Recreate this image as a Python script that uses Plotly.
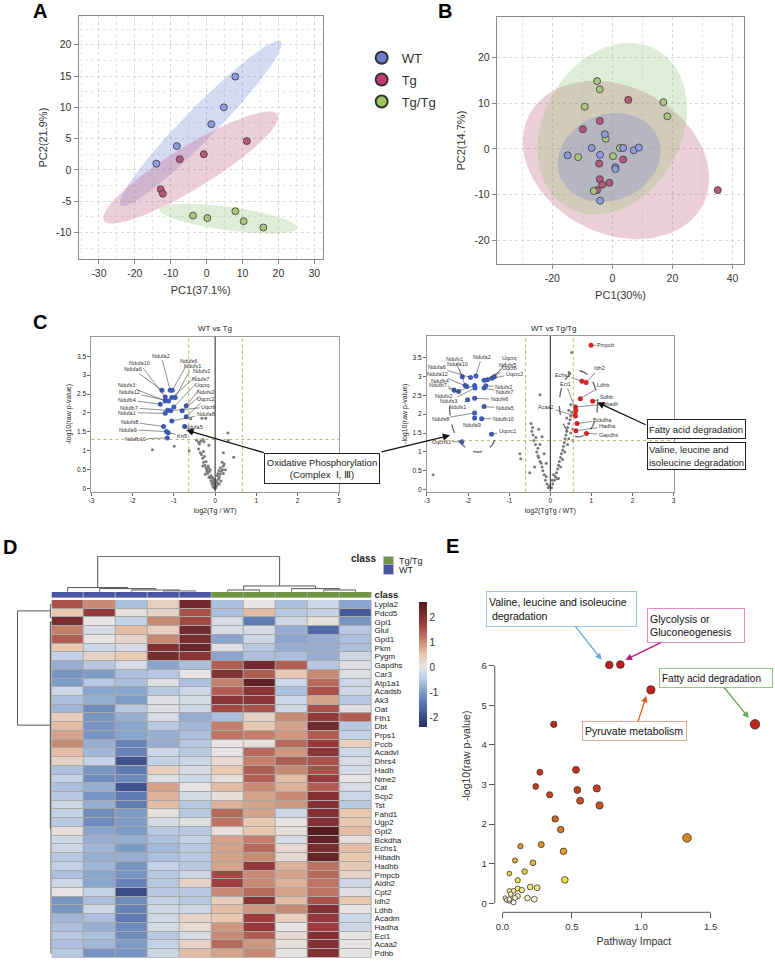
import numpy as np
import plotly.graph_objects as go

FONT = "Liberation Sans, Arial, sans-serif"
W, H = 775, 963


def px(x):
    return x / W


def py(y):
    return 1 - y / H


def ticks_txt(vals):
    # plain hyphen minus signs, as in the original figure
    return [("%g" % v) for v in vals]


# ---------------- A: PCA (WT, Tg, Tg/Tg) ----------------
a_wt_pc1 = [-14.0, -8.3, 1.3, 4.8, 8.0]
a_wt_pc2 = [1.0, 3.8, 7.3, 10.0, 14.9]
a_tg_pc1 = [-12.8, -12.2, -7.5, -0.8, 11.2]
a_tg_pc2 = [-3.1, -3.8, 1.7, 2.5, 4.6]
a_tgtg_pc1 = [-3.8, 0.2, 8.0, 10.3, 15.8]
a_tgtg_pc2 = [-7.3, -7.7, -6.6, -8.2, -9.2]

# ---------------- B: PCA ----------------
b_wt_pc1 = [-2.5, -6.9, -14.9, -4.1, 3.6, 7.1, 8.8, 1.0, 1.0, -4.1]
b_wt_pc2 = [3.2, 0.2, -1.4, -1.3, 0.2, -0.3, 0.3, -4.0, -4.4, -11.3]
b_tg_pc1 = [5.3, -4.2, -9.8, -4.4, 3.6, -4.2, -3.4, -1.0, -5.1, 35.1]
b_tg_pc2 = [10.7, 6.1, 4.3, -3.2, -2.3, -6.6, -7.8, -7.4, -9.0, -9.0]
b_tgtg_pc1 = [-5.1, -4.2, -9.2, 17.0, 18.3, -2.2, 2.5, 0.2, -11.4, -6.2]
b_tgtg_pc2 = [14.8, 13.0, 9.2, 10.2, 7.1, 2.2, 0.2, -1.6, -1.8, -9.2]

# ---------------- C: volcano WT vs Tg ----------------
c1_gray_x = [-1.52, -0.99, -0.63, -0.59, -0.32, -0.23, 0.31, 0.32, 0.45, -0.55, -0.35, -0.3, -0.4,
             -0.15, 0.2, -0.05, -0.03, -0.08, -0.1, -0.06, -0.12, -0.15, -0.1, -0.18, -0.14, -0.2,
             -0.22, -0.17, -0.25, -0.28, -0.22, -0.3, -0.26, -0.33, -0.36, -0.28, -0.4, -0.2, -0.12,
             -0.07, -0.02, -0.04, -0.16, -0.24, -0.3, 0.02, 0.04, 0.06, 0.03, 0.08, 0.1, 0.12, 0.07,
             0.15, 0.18, 0.13, 0.2, 0.22, 0.17, 0.25, 0.1, 0.05, 0.14, 0.2, 0.09, 0.0, 0.01, -0.01, 0.0,
             -0.45, -0.38, -0.27]
c1_gray_y = [1.03, 1.12, 1.0, 1.85, 1.86, 1.86, 1.47, 1.27, 0.83, 1.5, 1.25, 1.3, 1.22,
             1.15, 0.95, 0.05, 0.1, 0.12, 0.2, 0.18, 0.28, 0.3, 0.35, 0.4, 0.45, 0.5,
             0.55, 0.6, 0.62, 0.7, 0.72, 0.8, 0.85, 0.9, 0.95, 0.98, 1.05, 0.45, 0.5,
             0.3, 0.02, 0.25, 0.55, 0.38, 0.6, 0.03, 0.08, 0.15, 0.2, 0.25, 0.3, 0.38, 0.4,
             0.45, 0.5, 0.55, 0.6, 0.65, 0.7, 0.5, 0.12, 0.35, 0.2, 0.4, 0.48, 0.01, 0.06, 0.14, 0.22,
             1.28, 1.18, 1.24]
c1_genes = ["Ndufa6", "Ndufa10", "Ndufs3", "Ndufa12", "Ndufb4", "Ndufa2", "Ndufs6", "Ndufv2",
            "Ndufv1", "Ndufs7", "Ndufb7", "Ndufa1", "Uqcrb", "Uqcrq", "Ndufs2", "Uqcrc2", "Ndufa8",
            "Ndufs8", "Ndufa5", "Ndufa9", "Krt5", "Ndufb10"]
c1_fc = [-1.29, -1.21, -1.21, -1.13, -1.33, -1.09, -1.04, -1.05, -0.97, -1.0, -1.15, -1.21, -1.08,
         -0.70, -0.80, -0.70, -1.05, -1.25, -0.74, -1.18, -1.14, -1.16]
c1_p = [2.60, 2.42, 2.32, 2.32, 2.23, 2.60, 2.60, 2.41, 2.41, 2.16, 2.07, 1.99, 2.06,
        2.19, 2.06, 1.90, 1.79, 1.64, 1.64, 1.51, 1.48, 1.34]
# label text positions (data units)
c1_lab_x = [-1.99, -1.83, -2.16, -2.08, -2.13, -1.31, -0.64, -0.32, -0.56, -0.35, -2.08, -2.13, -0.15,
            -0.30, -0.23, -0.23, -0.23, -2.08, -0.52, -2.11, -0.80, -1.93]
c1_lab_y = [3.16, 3.31, 2.73, 2.55, 2.35, 3.52, 3.37, 3.10, 3.23, 2.91, 2.14, 2.01, 2.16,
            2.74, 2.56, 2.38, 1.97, 1.77, 1.64, 1.56, 1.40, 1.31]

# ---------------- C: volcano WT vs Tg/Tg ----------------
c2_gray_x = [-2.85, -0.74, -0.72, -0.25, 0.52, 0.46,
             -0.05, -0.08, -0.12, -0.1, -0.15, -0.18, -0.2, -0.22, -0.25, -0.28, -0.3, -0.33, -0.3,
             -0.36, -0.4, -0.35, -0.42, -0.45, -0.43, -0.47, -0.2, -0.25, -0.15, -0.38, -0.5, -0.1,
             -0.28, -0.03, 0.03, 0.06, 0.1, 0.12, 0.15, 0.18, 0.2, 0.22, 0.25, 0.27, 0.3, 0.32, 0.34,
             0.36, 0.38, 0.4, 0.42, 0.45, 0.48, 0.5, 0.52, 0.45, 0.55, 0.5, 0.45, 0.3, 0.16, 0.08,
             0.35, 0.55, 0.5, 0.4, 0.25, 0.2, 0.42, 0.05]
c2_gray_y = [0.4, 0.95, 0.82, 2.51, 3.63, 3.1,
             0.05, 0.15, 0.25, 0.35, 0.4, 0.5, 0.6, 0.7, 0.75, 0.85, 0.9, 1.0, 1.1,
             1.2, 1.3, 1.38, 1.45, 1.55, 1.65, 1.75, 1.4, 1.2, 0.95, 0.6, 0.45, 0.7,
             1.6, 0.1, 0.05, 0.15, 0.25, 0.35, 0.45, 0.55, 0.65, 0.75, 0.85, 0.95, 1.05, 1.15, 1.25,
             1.35, 1.45, 1.55, 1.65, 1.75, 1.85, 1.95, 2.05, 2.1, 1.6, 1.5, 1.35, 0.8, 0.3, 0.4,
             1.0, 1.3, 2.25, 1.9, 0.6, 0.3, 1.2, 0.25]
c2_blue_genes = ["Ndufv1", "Ndufa10", "Ndufa2", "Uqcrq", "Ndufs5", "Uqcrb", "Uqcrc2", "Ndufa6",
                 "Ndufa12", "Ndufb4", "Ndufb7", "Ndufs2", "Ndufs7", "Ndufv2", "Ndufs3", "Ndufs1",
                 "Ndufs6", "Ndufa5", "Ndufs8", "Ndufb10", "Ndufa9", "Uqcrc1", "Uqcrfs1"]
c2_blue_fc = [-2.14, -2.07, -1.81, -1.36, -1.53, -1.61, -1.42, -1.94, -2.03, -2.34, -2.23, -1.57,
              -1.61, -1.84, -1.83, -2.01, -1.84, -1.61, -1.84, -1.67, -1.84, -1.43, -2.15]
c2_blue_p = [2.99, 2.76, 3.01, 2.99, 2.91, 2.90, 2.95, 2.97, 2.73, 2.64, 2.60, 2.75,
             2.69, 2.76, 2.69, 2.38, 2.42, 2.20, 2.03, 1.88, 1.90, 1.47, 1.27]
c2_blue_lab_x = [-2.34, -2.26, -1.67, -0.99, -1.03, -0.99, -0.87, -2.76, -2.74, -2.68, -2.74, -1.13,
                 -1.11, -2.60, -2.48, -2.26, -1.24, -1.11, -2.68, -1.13, -1.91, -1.05, -2.65]
c2_blue_lab_y = [3.46, 3.32, 3.52, 3.48, 3.30, 3.21, 3.06, 3.24, 3.06, 2.87, 2.76, 2.73,
                 2.58, 2.48, 2.34, 2.20, 2.39, 2.16, 1.88, 1.88, 1.71, 1.55, 1.27]
c2_red_genes = ["Pmpcb", "Idh2", "Ldhb", "Echs1", "Eci1", "Sdhb", "Hibadh", "Acaa2", "Bckdha",
                "Hadha", "Gapdhs", ""]
c2_red_fc = [0.99, 0.87, 0.73, 0.77, 0.62, 1.03, 0.61, 0.61, 0.65, 0.62, 0.88, 0.60]
c2_red_p = [3.82, 2.84, 2.41, 2.87, 2.10, 2.34, 2.19, 1.95, 1.75, 1.56, 1.49, 2.04]
c2_red_lab_x = [1.35, 1.19, 1.27, 0.29, 0.38, 1.37, 1.43, -0.10, 1.27, 1.39, 1.43, None]
c2_red_lab_y = [3.82, 3.21, 2.76, 3.04, 2.80, 2.45, 2.27, 2.19, 1.85, 1.68, 1.46, None]

# ---------------- D: heatmap ----------------
heat_rows = ["Lypla2", "Pdcd5", "Gpi1", "Glul", "Gpd1", "Pkm", "Pygm", "Gapdhs", "Car3", "Atp1a1",
             "Acadsb", "Ak3", "Oat", "Fth1", "Dbt", "Prps1", "Pccb", "Acadvl", "Dhrs4", "Hadh",
             "Nme2", "Cat", "Scp2", "Tst", "Fahd1", "Ugp2", "Gpt2", "Bckdha", "Echs1", "Hibadh",
             "Hadhb", "Pmpcb", "Aldh2", "Cpt2", "Idh2", "Ldhb", "Acadm", "Hadha", "Eci1", "Acaa2",
             "Pdhb"]
heat_class = ["WT"] * 5 + ["Tg/Tg"] * 5
heat_values = [
    [1.5, 1.0, -0.6, 0.4, 2.2, -0.6, 0.0, -0.6, -0.3, -0.9],
    [0.5, 1.8, 0.1, 0.3, 1.5, -0.6, 0.6, -0.5, -0.4, -1.8],
    [2.1, 0.0, -0.4, 1.0, 1.6, -0.2, -1.4, -0.3, 0.1, -1.1],
    [1.1, -0.2, 0.6, 0.4, 2.2, -0.2, -0.2, -0.8, -1.6, -0.5],
    [1.4, 0.0, 0.3, 1.0, 2.1, -0.9, -0.3, -0.9, -0.8, -0.6],
    [0.5, -0.3, -0.2, 2.0, 2.3, -0.1, -0.5, -0.8, -0.8, -0.6],
    [-0.4, 0.3, 0.5, 2.1, 1.9, -0.9, -0.6, -0.6, -0.8, -0.3],
    [-0.8, -0.5, -0.2, -0.9, -0.6, 1.4, 2.2, 1.4, -0.5, -0.1],
    [-1.1, -1.0, -0.6, -0.5, 0.0, 2.0, 1.4, 0.5, 1.0, -0.1],
    [-1.0, -0.5, -0.6, -0.1, -0.6, 1.1, 2.4, -0.3, 1.3, -0.3],
    [-0.3, -0.9, -0.9, -0.5, -0.3, 1.4, 1.9, -0.6, 1.5, -0.3],
    [-0.6, -0.8, -1.0, -0.1, -0.2, 1.9, 1.9, -0.3, 0.8, -0.5],
    [-0.7, -1.2, -0.5, -0.1, -0.3, 1.6, 1.5, -0.3, 1.5, -0.1],
    [0.4, -1.1, -0.8, -0.2, -0.8, -0.6, 0.3, 1.0, 1.8, 1.4],
    [0.6, -1.1, -0.9, -0.5, -0.7, 1.1, 0.5, 0.8, 2.2, -0.5],
    [0.8, -1.1, -0.9, -0.8, -0.6, 1.2, 1.1, 0.9, 1.4, -0.4],
    [1.0, -0.8, -1.3, -0.8, -0.5, 0.0, 0.1, 1.3, 1.8, 0.4],
    [0.6, -0.7, -1.3, -0.3, -0.5, 0.0, 1.3, 0.9, 1.9, -0.3],
    [0.3, -0.4, -1.9, -0.4, -0.3, 0.2, 1.1, 1.4, 1.5, -0.2],
    [-0.6, -1.1, -1.4, 0.4, -0.2, 0.5, 1.4, 1.0, 1.5, -0.2],
    [-0.4, -1.2, -1.2, -0.1, -0.3, 0.1, 1.4, 0.6, 1.8, 0.0],
    [-0.6, -0.8, -1.9, 0.8, 0.0, 0.6, 1.0, 0.7, 1.4, -0.2],
    [-0.5, -1.1, -1.4, 0.7, -0.2, 0.1, 0.8, 1.0, 2.0, -0.3],
    [-0.3, -0.8, -1.4, 0.6, -0.5, 0.7, 0.8, 0.9, 2.0, -0.5],
    [-0.4, -1.2, -1.0, 0.1, -0.5, 1.3, 0.8, -0.3, 2.0, 0.5],
    [-0.5, -1.2, -1.0, -0.2, -0.1, 1.2, 0.5, 0.0, 2.0, 0.5],
    [0.1, -0.9, -1.0, -0.5, -0.5, 0.1, 0.5, 0.1, 2.5, 0.6],
    [-0.3, -0.8, -0.8, -0.6, -0.4, 0.8, 1.1, -0.2, 2.4, 0.1],
    [-0.3, -0.7, -1.0, -0.7, -0.5, 0.8, 1.3, 0.2, 2.1, 0.6],
    [-0.5, -0.8, -0.8, -0.6, -0.5, 0.8, 1.0, 0.2, 2.3, 0.5],
    [-0.4, -0.7, -1.1, -0.4, -0.5, 0.8, 1.8, 0.7, 1.2, 0.5],
    [-0.6, -0.9, -1.1, -0.5, -0.3, 1.6, 1.0, 0.8, 1.3, 0.3],
    [-0.3, -0.9, -1.3, -0.5, 0.3, 1.7, 1.0, 0.7, 1.2, -0.3],
    [0.0, -0.4, -2.0, -0.5, -0.5, 1.0, 1.3, 0.8, 1.2, -0.1],
    [-1.1, -0.6, -1.2, -0.4, -0.5, 0.4, 1.9, 0.6, 1.5, 0.5],
    [-1.1, -0.3, -1.3, -0.3, -0.3, 0.6, 0.9, 1.0, 2.0, 0.0],
    [-0.7, -0.6, -1.4, -0.3, 0.3, 0.5, 1.7, 0.4, 1.8, -0.3],
    [-0.6, -0.8, -1.2, -0.2, 0.2, 0.9, 1.8, 0.0, 1.7, -0.3],
    [-0.5, -0.6, -1.2, -0.5, -0.2, 1.0, 1.4, 0.2, 2.0, 0.0],
    [-0.6, -0.7, -1.0, -0.4, 0.3, 1.3, 0.9, 0.1, 2.0, 0.0],
    [-0.5, -1.1, -1.1, -0.3, 0.6, 0.8, 1.0, 0.0, 2.0, 0.0],
]
# column dendrogram merges (column positions, merge height, child heights)
col_link_a = [3, 2, 1, 0, 5, 8, 7, 5.5, 0.9375]
col_link_b = [4, 3.5, 2.75, 1.875, 6, 9, 8.5, 7.75, 6.625]
col_link_h = [0.8, 1.8, 3.2, 4.2, 1.8, 1.8, 3.2, 5.8, 35.2]
col_link_ha = [0, 0, 0, 0, 0, 0, 0, 1.8, 4.2]
col_link_hb = [0, 0.8, 1.8, 3.2, 0, 0, 1.8, 3.2, 5.8]
# row dendrogram merges (row positions, merge height, child heights)
row_link_a = [0, 2, 2, 0.75]
row_link_b = [1.5, 40, 25.7, 13.85]
row_link_h = [1.2, 0.6, 1.2, 30]
row_link_ha = [0, 0, 0.6, 1.2]
row_link_hb = [0, 0, 0.6, 1.2]

# ---------------- E: pathway analysis ----------------
e_impact = [0.77, 0.85, 1.07, 1.82, 0.37, 0.53, 0.27, 0.24, 0.54, 0.68, 0.34, 0.56, 0.70, 0.38,
            0.42, 1.33, 0.13, 0.28, 0.44, 0.09, 0.22, 0.16, 0.05, 0.11, 0.45, 0.20, 0.25, 0.05,
            0.08, 0.11, 0.14, 0.06, 0.11, 0.09, 0.18, 0.23, 0.02, 0.03, 0.05, 0.08, 0.05]
e_logp = [6.02, 6.03, 5.39, 4.52, 4.52, 3.37, 3.31, 2.95, 2.86, 2.90, 2.74, 2.59, 2.47, 2.13,
          1.86, 1.65, 1.44, 1.48, 1.31, 1.08, 1.02, 0.80, 0.75, 0.58, 0.59, 0.41, 0.39, 0.31,
          0.31, 0.37, 0.33, 0.23, 0.18, 0.13, 0.13, 0.10, 0.13, 0.08, 0.06, 0.02, 0.10]


def conf_ellipse(x, y, n=120):
    pts = np.column_stack([x, y])
    mu = pts.mean(axis=0)
    vals, vecs = np.linalg.eigh(np.cov(pts, rowvar=False))
    r = np.sqrt(5.991 * vals)
    t = np.linspace(0, 2 * np.pi, n)
    e = vecs @ np.stack([np.cos(t) * r[0], np.sin(t) * r[1]]) + mu[:, None]
    return e[0], e[1]


def links(a, b, h, ha, hb):
    pos, hts = [], []
    for ai, bi, hi, hai, hbi in zip(a, b, h, ha, hb):
        pos += [ai, ai, bi, bi, None]
        hts += [hai, hi, hi, hbi, None]
    return pos, hts


fig = go.Figure()

groups = [("WT", "#8d9ddf", "rgba(120,132,212,0.30)", "#6b7bcf"),
          ("Tg", "#b9587c", "rgba(196,104,138,0.32)", "#c23a72"),
          ("Tg/Tg", "#a8c67e", "rgba(146,196,116,0.30)", "#9bc45c")]
a_data = [(a_wt_pc1, a_wt_pc2), (a_tg_pc1, a_tg_pc2), (a_tgtg_pc1, a_tgtg_pc2)]
b_data = [(b_tg_pc1, b_tg_pc2), (b_tgtg_pc1, b_tgtg_pc2), (b_wt_pc1, b_wt_pc2)]
b_groups = [groups[1], groups[2], groups[0]]

for (xs, ys), (name, col, fill, _) in zip(a_data, groups):
    ex, ey = conf_ellipse(xs, ys)
    fig.add_trace(go.Scatter(x=ex, y=ey, fill="toself", fillcolor=fill, mode="lines",
                             line=dict(width=0), showlegend=False, hoverinfo="skip",
                             xaxis="x", yaxis="y"))
for (xs, ys), (name, col, fill, _) in zip(b_data, b_groups):
    ex, ey = conf_ellipse(xs, ys)
    fig.add_trace(go.Scatter(x=ex, y=ey, fill="toself", fillcolor=fill, mode="lines",
                             line=dict(width=0), showlegend=False, hoverinfo="skip",
                             xaxis="x2", yaxis="y2"))
for (xs, ys), (name, col, fill, _) in zip(a_data, groups):
    fig.add_trace(go.Scatter(x=xs, y=ys, mode="markers", name=name, showlegend=False,
                             marker=dict(size=7, color=col, line=dict(color="#3a3a3a", width=0.8)),
                             xaxis="x", yaxis="y"))
for (xs, ys), (name, col, fill, _) in zip(b_data, b_groups):
    fig.add_trace(go.Scatter(x=xs, y=ys, mode="markers", name=name, showlegend=False,
                             marker=dict(size=7, color=col, line=dict(color="#3a3a3a", width=0.8)),
                             xaxis="x2", yaxis="y2"))
for i, (name, col, fill, lcol) in enumerate(groups):
    fig.add_trace(go.Scatter(x=[None], y=[None], mode="markers", name=name, legendgroup=name,
                             marker=dict(size=11, color=lcol, line=dict(color="#333", width=1)),
                             xaxis="x", yaxis="y"))

# volcano plots
fig.add_trace(go.Scatter(x=c1_gray_x, y=c1_gray_y, mode="markers", showlegend=False,
                         marker=dict(size=3, color="#7a7a7a"), xaxis="x3", yaxis="y3"))
fig.add_trace(go.Scatter(x=c1_fc, y=c1_p, mode="markers", showlegend=False,
                         marker=dict(size=5, color="#3c5bb8"), xaxis="x3", yaxis="y3"))
fig.add_trace(go.Scatter(x=c2_gray_x, y=c2_gray_y, mode="markers", showlegend=False,
                         marker=dict(size=3, color="#7a7a7a"), xaxis="x4", yaxis="y4"))
fig.add_trace(go.Scatter(x=c2_blue_fc, y=c2_blue_p, mode="markers", showlegend=False,
                         marker=dict(size=5, color="#3c5bb8"), xaxis="x4", yaxis="y4"))
fig.add_trace(go.Scatter(x=c2_red_fc, y=c2_red_p, mode="markers", showlegend=False,
                         marker=dict(size=5, color="#d42424"), xaxis="x4", yaxis="y4"))

# heatmap
heat_scale = [[0.0, "#262f5e"], [0.14, "#4a62a4"], [0.28, "#7e9cc8"], [0.40, "#c2d2e7"],
              [0.48, "#e6e3e2"], [0.58, "#e8c9b2"], [0.68, "#c98a73"], [0.82, "#9e3d3d"],
              [1.0, "#4e1a1e"]]
fig.add_trace(go.Heatmap(z=heat_values, x=list(range(10)), y=list(range(len(heat_rows))),
                         colorscale=heat_scale, zmin=-2.4, zmax=2.6, xgap=1, ygap=1,
                         xaxis="x5", yaxis="y5",
                         colorbar=dict(x=px(409), xanchor="left", y=py(593), yanchor="top",
                                       len=146 / H, lenmode="fraction", thickness=8,
                                       outlinewidth=0, tickvals=[-2, -1, 0, 1, 2],
                                       ticktext=ticks_txt([-2, -1, 0, 1, 2]), ticks="",
                                       tickfont=dict(size=10, color="#333", family=FONT))))
fig.add_trace(go.Heatmap(z=[[0 if c == "WT" else 1 for c in heat_class]], x=list(range(10)), y=[0],
                         colorscale=[[0, "#4a55a5"], [0.5, "#4a55a5"], [0.5, "#6e9643"],
                                     [1, "#6e9643"]],
                         zmin=0, zmax=1, showscale=False, xgap=1, xaxis="x6", yaxis="y6"))
cx, ch = links(col_link_a, col_link_b, col_link_h, col_link_ha, col_link_hb)
fig.add_trace(go.Scatter(x=cx, y=ch, mode="lines", line=dict(color="#555", width=1),
                         showlegend=False, xaxis="x7", yaxis="y7"))
rp, rh = links(row_link_a, row_link_b, row_link_h, row_link_ha, row_link_hb)
fig.add_trace(go.Scatter(x=rh, y=rp, mode="lines", line=dict(color="#555", width=1),
                         showlegend=False, xaxis="x8", yaxis="y8"))

# pathway bubbles
e_scale = [[0.0, "#fffff4"], [0.04, "#f8f4a8"], [0.1, "#f2dc3c"], [0.2, "#e4a52a"],
           [0.32, "#d6741e"], [0.45, "#c94418"], [0.6, "#c42818"], [1.0, "#c41a1a"]]
fig.add_trace(go.Scatter(x=e_impact, y=e_logp, mode="markers", showlegend=False,
                         marker=dict(size=[3.8 + 4.2 * np.sqrt(v) for v in e_impact],
                                     color=e_logp, colorscale=e_scale, cmin=0, cmax=6, opacity=1,
                                     line=dict(color="#333", width=0.8)),
                         xaxis="x9", yaxis="y9"))

tick_font = dict(family=FONT, size=10.5, color="#333")
frame = dict(showline=True, mirror=True, linecolor="#8a8a8a", linewidth=1, zeroline=False,
             ticks="outside", ticklen=4, tickcolor="#8a8a8a")
grid = dict(showgrid=True, gridcolor="#d6d6d6", griddash="dot", gridwidth=1)

a_xt = list(range(-30, 31, 10))
a_yt = list(range(-10, 21, 5))
b_xt = [-20, 0, 20, 40]
b_yt = [-20, -10, 0, 10, 20]
layout = dict(
    width=W, height=H, margin=dict(l=0, r=0, t=0, b=0), paper_bgcolor="white",
    plot_bgcolor="white", font=dict(family=FONT, color="#222"),
    legend=dict(x=px(361), y=py(40), xanchor="left", yanchor="top", font=dict(size=13, color="#333"),
                itemsizing="constant", tracegroupgap=2, bgcolor="rgba(0,0,0,0)", itemwidth=30),
    xaxis=dict(domain=[px(76), px(322)], range=[-35.7, 32.4], anchor="y", tickvals=a_xt,
               ticktext=ticks_txt(a_xt),
               tickfont=tick_font, title=dict(text="PC1(37.1%)", font=dict(size=11, color="#333"), standoff=8),
               minor=dict(dtick=5, showgrid=True, gridcolor="#e6e6e6", griddash="dot"), **frame, **grid),
    yaxis=dict(domain=[py(258), py(13)], range=[-14.3, 24.6], anchor="x", tickvals=a_yt,
               ticktext=ticks_txt(a_yt),
               tickfont=tick_font, title=dict(text="PC2(21.9%)", font=dict(size=11, color="#333"), standoff=6),
               minor=dict(dtick=2.5, showgrid=True, gridcolor="#e6e6e6", griddash="dot"), **frame, **grid),
    xaxis2=dict(domain=[px(497), px(746)], range=[-38.5, 43.9], anchor="y2", tickvals=b_xt,
                ticktext=ticks_txt(b_xt),
                tickfont=tick_font, title=dict(text="PC1(30%)", font=dict(size=11, color="#333"), standoff=8),
                minor=dict(dtick=10, showgrid=True, gridcolor="#e6e6e6", griddash="dot"), **frame, **grid),
    yaxis2=dict(domain=[py(263), py(14)], range=[-25.2, 28.8], anchor="x2", tickvals=b_yt,
                ticktext=ticks_txt(b_yt),
                tickfont=tick_font, title=dict(text="PC2(14.7%)", font=dict(size=11, color="#333"), standoff=6),
                **frame, **grid),
)

vfont = dict(family=FONT, size=6.5, color="#222")
vframe = dict(showline=True, mirror=True, linecolor="#999", linewidth=1, zeroline=False,
              ticks="outside", ticklen=3, tickcolor="#666", showgrid=False, tickfont=vfont)
ytv = [0, 0.5, 1, 1.5, 2, 2.5, 3, 3.5]
c_xt = list(range(-3, 4))
layout["xaxis3"] = dict(domain=[px(89), px(338)], range=[-3, 3], anchor="y3", tickvals=c_xt,
                        ticktext=ticks_txt(c_xt),
                        title=dict(text="log2(Tg / WT)", font=dict(size=7, color="#222"), standoff=4), **vframe)
layout["yaxis3"] = dict(domain=[py(491.7), py(335.7)], range=[-0.08, 4.02], anchor="x3", tickvals=ytv,
                        ticktext=ticks_txt(ytv), title=dict(text="-log10(raw p-value)",
                                                            font=dict(size=7, color="#222"), standoff=4),
                        **vframe)
layout["xaxis4"] = dict(domain=[px(426.7), px(675)], range=[-3, 3], anchor="y4", tickvals=c_xt,
                        ticktext=ticks_txt(c_xt),
                        title=dict(text="log2(TgTg / WT)", font=dict(size=7, color="#222"), standoff=4), **vframe)
layout["yaxis4"] = dict(domain=[py(491.7), py(335)], range=[-0.05, 4.07], anchor="x4", tickvals=ytv,
                        ticktext=ticks_txt(ytv), title=dict(text="-log10(raw p-value)",
                                                            font=dict(size=7, color="#222"), standoff=4),
                        **vframe)

hx = [px(49), px(371)]
layout["xaxis5"] = dict(domain=hx, range=[-0.5, 9.5], anchor="y5", showticklabels=False, showgrid=False,
                        zeroline=False, ticks="")
layout["yaxis5"] = dict(domain=[py(960.7), py(600.7)], range=[len(heat_rows) - 0.5, -0.5], anchor="x5",
                        side="right", tickvals=list(range(len(heat_rows))), ticktext=heat_rows, ticks="",
                        showgrid=False, zeroline=False, ticklabelstandoff=2,
                        tickfont=dict(family=FONT, size=8, color="#222"))
layout["xaxis6"] = dict(domain=hx, range=[-0.5, 9.5], anchor="y6", showticklabels=False, showgrid=False,
                        zeroline=False)
layout["yaxis6"] = dict(domain=[py(598.3), py(592.7)], range=[-0.5, 0.5], anchor="x6", side="right",
                        tickvals=[0], ticktext=["<b>class</b>"], ticks="", showgrid=False, zeroline=False,
                        ticklabelstandoff=2, tickfont=dict(family=FONT, size=9.5, color="#222"))
layout["xaxis7"] = dict(domain=hx, range=[-0.5, 9.5], anchor="y7", visible=False)
layout["yaxis7"] = dict(domain=[py(592.5), py(556.5)], range=[0, 35.5], anchor="x7", visible=False)
layout["xaxis8"] = dict(domain=[px(14), px(49)], range=[30.5, 0], anchor="y8", visible=False)
layout["yaxis8"] = dict(domain=[py(960.7), py(600.7)], range=[len(heat_rows) - 0.5, -0.5], anchor="x8",
                        visible=False)

efont = dict(family=FONT, size=9.5, color="#333")
layout["xaxis9"] = dict(domain=[px(495), px(775)], range=[-0.055, 1.95], anchor="y9",
                        tickvals=[0, 0.5, 1, 1.5], ticktext=["0.0", "0.5", "1.0", "1.5"], ticks="outside",
                        ticklen=5, tickcolor="#555", showgrid=False, zeroline=False, showline=False,
                        tickfont=efont, title=dict(text="Pathway Impact", font=dict(size=10.5, color="#333"),
                                                   standoff=6))
layout["yaxis9"] = dict(domain=[py(915), py(600)], range=[-0.23, 7.68], anchor="x9", tickvals=list(range(7)),
                        ticks="outside", ticklen=5, tickcolor="#555", showgrid=False, zeroline=False,
                        showline=False, tickfont=efont,
                        title=dict(text="-log10(raw p-value)", font=dict(size=10.5, color="#333"), standoff=8))

shapes = []
# volcano reference lines
for xr, yr, fc_lo, fc_hi in [("x3", "y3", -0.64, 0.66), ("x4", "y4", -0.60, 0.56)]:
    for xv in (fc_lo, fc_hi):
        shapes.append(dict(type="line", xref=xr, yref=yr + " domain", x0=xv, x1=xv, y0=0, y1=1,
                           line=dict(color="#c2ad74", width=1, dash="dot")))
    shapes.append(dict(type="line", xref=xr + " domain", yref=yr, x0=0, x1=1, y0=1.3, y1=1.3,
                       line=dict(color="#c2ad74", width=1, dash="dot")))
    shapes.append(dict(type="line", xref=xr, yref=yr + " domain", x0=0, x1=0, y0=0, y1=1,
                       line=dict(color="#222", width=1)))
shapes.append(dict(type="path", xref="x4", yref="y4", path="M -2.45,2.2 C -2.42,0.7 -1.3,0.75 -1.32,1.55",
                   line=dict(color="#666", width=1.3, dash="dash")))
shapes.append(dict(type="circle", xref="x4", yref="y4", x0=0.22, x1=1.15, y0=1.4, y1=3.15,
                   line=dict(color="#666", width=1.3, dash="dash")))
# heatmap cell borders
for yd in ([py(960.7), py(600.7)], [py(598.3), py(592.7)]):
    shapes.append(dict(type="rect", xref="paper", yref="paper", x0=hx[0], x1=hx[1], y0=yd[0], y1=yd[1],
                       fillcolor="#a8a8a8", line=dict(width=0), layer="below"))
# class legend swatches
shapes.append(dict(type="rect", xref="paper", yref="paper", x0=px(383), x1=px(393), y0=py(565), y1=py(557),
                   fillcolor="#6e9643", line=dict(color="#bbb", width=0.5)))
shapes.append(dict(type="rect", xref="paper", yref="paper", x0=px(383), x1=px(393), y0=py(575), y1=py(565),
                   fillcolor="#4a55a5", line=dict(color="#bbb", width=0.5)))
# pathway axes lines (R style, span tick range only)
shapes.append(dict(type="line", xref="x9", yref="y9 domain", x0=0, x1=1.5, y0=0, y1=0,
                   line=dict(color="#555", width=1)))
shapes.append(dict(type="line", xref="x9 domain", yref="y9", x0=0, x1=0, y0=0, y1=6,
                   line=dict(color="#555", width=1)))


def paper_text(text, xp, ypx, size, xanchor="center", **kw):
    return dict(text=text, x=px(xp), y=py(ypx), xref="paper", yref="paper", xanchor=xanchor,
                yanchor="middle", showarrow=False, font=dict(size=size, color=kw.pop("color", "#222"),
                                                             family=FONT), **kw)


annotations = []
for lab, xp, ypx in [("A", 37, 8), ("B", 445, 8), ("C", 37, 321), ("D", 7, 547), ("E", 452, 546)]:
    annotations.append(paper_text("<b>%s</b>" % lab, xp, ypx, 20, color="#000"))
annotations.append(paper_text("WT vs Tg", 213, 328, 8))
annotations.append(paper_text("WT vs Tg/Tg", 555, 328, 8))

lab_font = dict(size=5.5, color="#333", family=FONT)
for name, x, y, tx, ty in zip(c1_genes, c1_fc, c1_p, c1_lab_x, c1_lab_y):
    annotations.append(dict(text=name, x=x, y=y, xref="x3", yref="y3", ax=tx, ay=ty, axref="x3", ayref="y3",
                            showarrow=True, arrowhead=0, arrowwidth=0.6, arrowcolor="#444", standoff=1,
                            font=lab_font))
for name, x, y, tx, ty in zip(c2_blue_genes, c2_blue_fc, c2_blue_p, c2_blue_lab_x, c2_blue_lab_y):
    annotations.append(dict(text=name, x=x, y=y, xref="x4", yref="y4", ax=tx, ay=ty, axref="x4", ayref="y4",
                            showarrow=True, arrowhead=0, arrowwidth=0.6, arrowcolor="#444", standoff=1,
                            font=lab_font))
for name, x, y, tx, ty in zip(c2_red_genes, c2_red_fc, c2_red_p, c2_red_lab_x, c2_red_lab_y):
    if not name:
        continue
    annotations.append(dict(text=name, x=x, y=y, xref="x4", yref="y4", ax=tx, ay=ty, axref="x4", ayref="y4",
                            showarrow=True, arrowhead=0, arrowwidth=0.6, arrowcolor="#444", standoff=1,
                            font=lab_font))

box = dict(bordercolor="#222", borderwidth=1, bgcolor="white", borderpad=1)
annotations.append(paper_text("Oxidative Phosphorylation<br>(Complex  Ⅰ, Ⅲ)", 321.5, 468, 9.5,
                              width=112, height=27, **box))
annotations.append(paper_text("Fatty acid degradation", 697.5, 429, 9.5, width=95, height=16,
                              align="left", **box))
annotations.append(paper_text("Valine, leucine and<br>isoleucine degradation", 697.5, 456, 9.5,
                              width=95, height=24, align="left", **box))
for xr, yr, hx_, hy_, ax_, ay_ in [("x3", "y3", -0.70, 1.55, 79, 23), ("x4", "y4", -2.44, 1.44, -70, 17),
                                    ("x4", "y4", 1.14, 2.31, 50, 23)]:
    annotations.append(dict(text="", x=hx_, y=hy_, xref=xr, yref=yr, ax=ax_, ay=ay_, showarrow=True,
                            arrowhead=2, arrowsize=1.1, arrowwidth=1.3, arrowcolor="#111"))

annotations.append(paper_text("<b>class</b>", 377, 559, 10, xanchor="right"))
annotations.append(paper_text("Tg/Tg", 397, 561, 9, xanchor="left"))
annotations.append(paper_text("WT", 397, 571, 9, xanchor="left"))

for text, cx_, cy_, w_, h_, fs, bcol, acol, hx_, hy_ in [
        ("Valine, leucine and isoleucine<br> degradation", 562.5, 609.7, 145, 30, 10.5, "#9cc3ea",
         "#6fa8dc", 0.715, 6.15),
        ("Glycolysis or<br>Gluconeogenesis", 696.7, 626.7, 92, 29, 10.5, "#e58ccb", "#c0177f", 0.887, 6.15),
        ("Fatty acid degradation", 718.3, 679.2, 108, 14, 10, "#8fcb7f", "#6aa84f", 1.776, 4.68),
        ("Pyruvate metabolism", 636.3, 732.5, 99, 14, 10.5, "#e7a98c", "#e0601a", 1.037, 5.24)]:
    hpx = 502.7 + hx_ * 139.8
    hpy = 905.7 - hy_ * 39.8
    annotations.append(dict(text=text, x=hx_, y=hy_, xref="x9", yref="y9", ax=cx_ - hpx, ay=cy_ - hpy,
                            showarrow=True, arrowhead=2, arrowsize=1, arrowwidth=1.3, arrowcolor=acol,
                            bordercolor=bcol, borderwidth=1, bgcolor="white", width=w_, height=h_,
                            borderpad=2, align="left", font=dict(size=fs, color="#111", family=FONT)))

layout["shapes"] = shapes
layout["annotations"] = annotations
fig.update_layout(**layout)

fig.write_html("out.html", config={"displayModeBar": False},
               post_script="document.body.style.margin='0';document.body.style.overflow='hidden';")
